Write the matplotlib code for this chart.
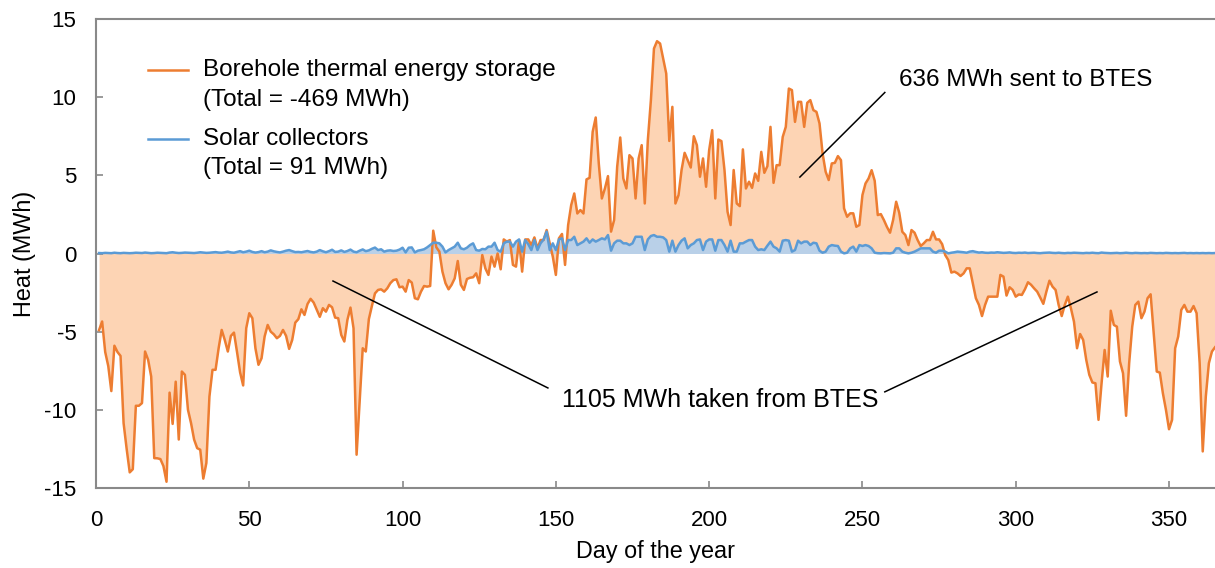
import matplotlib
matplotlib.use("Agg")
import matplotlib.pyplot as plt
from matplotlib.lines import Line2D
import numpy as np

plt.rcParams['font.family'] = ['Liberation Sans', 'DejaVu Sans']
plt.rcParams['axes.unicode_minus'] = False

# Daily heat (MWh), day 1..365
days = list(range(1, 366))

btes = [
    -4.9, -4.35, -6.3, -7.2, -8.8, -5.9, -6.3, -6.55, -10.85, -12.5,
    -14.0, -13.8, -9.74, -9.74, -9.57, -6.27, -6.8, -7.87, -13.09, -13.1,
    -13.15, -13.6, -14.6, -8.9, -10.9, -8.2, -11.9, -7.55, -7.76, -10.0,
    -10.85, -11.9, -12.45, -12.55, -14.4, -13.4, -9.15, -7.44, -7.44, -6.06,
    -4.89, -5.53, -6.27, -5.27, -5.06, -6.3, -7.6, -8.44, -4.78, -3.82,
    -4.14, -6.06, -7.12, -6.7, -5.31, -4.57, -5.0, -5.17, -5.42, -5.27,
    -4.89, -5.27, -6.1, -5.53, -4.42, -4.2, -3.57, -3.93, -3.23, -2.9,
    -3.14, -3.6, -4.05, -3.5, -3.72, -3.29, -3.44, -4.1, -4.14, -5.21,
    -5.63, -4.25, -3.46, -4.78, -12.87, -9.5, -6.06, -6.27, -4.2, -3.35,
    -2.55, -2.33, -2.29, -2.44, -2.23, -1.9, -1.7, -1.65, -2.16, -2.12,
    -2.44, -1.7, -1.86, -2.86, -2.93, -2.44, -2.08, -2.12, -2.08, 1.46,
    0.4, 0.12, -1.16, -1.9, -2.29, -2.0, -1.59, -0.48, -2.0, -2.33,
    -1.63, -1.55, -1.52, -1.27, -1.9, -0.1, -0.95, -1.37, -0.2, -0.84,
    0.0, -1.01, 0.9, 0.76, 0.86, -0.73, -0.84, 0.86, -1.16, 0.9,
    0.9, 0.54, 1.03, 0.33, 0.86, 0.86, 1.5, 0.65, -0.2, -1.37,
    0.97, 1.25, -0.73, 1.82, 3.1, 3.84, 2.56, 2.78, 2.56, 4.74,
    4.84, 7.78, 8.7, 5.76, 3.52, 4.16, 4.95, 1.4, 2.14, 5.55,
    7.42, 4.8, 4.16, 6.29, 6.08, 3.52, 6.08, 6.93, 3.2, 7.25,
    9.81, 13.11, 13.58, 13.43, 12.47, 11.51, 7.2, 9.38, 3.2, 3.73,
    5.34, 6.44, 5.97, 5.5, 7.5, 6.93, 4.91, 6.08, 4.27, 6.61,
    7.89, 3.52, 7.29, 7.19, 5.34, 2.67, 1.82, 5.34, 3.2, 3.03,
    6.66, 4.16, 4.59, 4.2, 5.12, 4.65, 6.5, 5.16, 5.59, 8.1,
    4.52, 5.65, 5.65, 7.46, 8.1, 10.55, 10.45, 8.42, 9.7, 9.7,
    8.1, 9.64, 9.81, 9.17, 9.06, 8.32, 6.4, 5.23, 4.7, 5.76,
    5.8, 6.23, 5.97, 2.89, 2.35, 2.57, 2.57, 1.71, 1.82, 3.74,
    4.48, 4.8, 5.33, 4.65, 2.46, 2.52, 2.14, 1.7, 1.33, 2.14,
    3.31, 2.61, 1.39, 1.18, 0.54, 1.5, 1.33, 0.86, 0.48, 0.65,
    0.86, 0.86, 1.39, 0.9, 0.9, 0.6, -0.1, -0.42, -1.22, -1.16,
    -1.27, -1.44, -1.27, -0.95, -0.95, -1.91, -2.86, -3.29, -4.0, -3.29,
    -2.76, -2.76, -2.76, -2.76, -1.37, -1.48, -2.69, -2.16, -2.33, -2.76,
    -2.62, -2.65, -2.29, -1.84, -2.0, -2.23, -2.44, -2.82, -3.22, -2.44,
    -1.74, -2.12, -2.33, -3.29, -4.0, -3.29, -2.76, -3.5, -4.36, -6.06,
    -5.15, -5.53, -6.8, -7.76, -8.25, -8.3, -10.64, -8.3, -6.17, -7.87,
    -3.66, -4.57, -4.68, -6.91, -7.66, -10.38, -7.02, -4.68, -3.29, -3.08,
    -4.14, -3.72, -2.86, -2.61, -5.1, -7.55, -7.62, -8.94, -10.0, -11.24,
    -10.64, -6.06, -5.31, -3.61, -3.29, -3.72, -3.72, -3.36, -3.82, -7.02,
    -12.66, -9.15, -7.02, -6.27, -6.0,
]

solar = [
    0.03, 0.02, 0.04, 0.03, 0.02, 0.05, 0.03, 0.02, 0.04, 0.03,
    0.02, 0.03, 0.05, 0.04, 0.03, 0.06, 0.04, 0.02, 0.03, 0.05,
    0.04, 0.03, 0.02, 0.06, 0.08, 0.05, 0.03, 0.04, 0.06, 0.05,
    0.04, 0.03, 0.05, 0.08, 0.06, 0.04, 0.05, 0.07, 0.09, 0.06,
    0.05, 0.08, 0.12, 0.07, 0.05, 0.1, 0.15, 0.08, 0.12, 0.18,
    0.1, 0.06, 0.09, 0.15, 0.08, 0.12, 0.2, 0.14, 0.1, 0.07,
    0.12, 0.18, 0.22, 0.15, 0.09, 0.1, 0.08, 0.12, 0.16, 0.1,
    0.07, 0.12, 0.22, 0.14, 0.08, 0.15, 0.24, 0.1, 0.12, 0.2,
    0.1, 0.16, 0.25, 0.12, 0.08, 0.18, 0.26, 0.15, 0.2, 0.3,
    0.38, 0.22, 0.27, 0.12, 0.18, 0.2, 0.16, 0.18, 0.25, 0.37,
    0.07, 0.37, 0.39, 0.07, 0.18, 0.22, 0.27, 0.39, 0.54, 0.69,
    0.69, 0.65, 0.44, 0.07, 0.22, 0.33, 0.44, 0.69, 0.33, 0.27,
    0.37, 0.54, 0.65, 0.22, 0.18, 0.29, 0.27, 0.44, 0.44, 0.69,
    0.22, 0.12, 0.65, 0.76, 0.76, 0.44, 0.76, 0.9, 0.12, 0.86,
    0.6, 0.22, 0.86, 0.22, 0.65, 0.9, 1.4, 0.22, 0.65, 0.22,
    0.9, 0.97, 0.22, 0.86, 0.86, 1.07, 0.54, 0.65, 0.76, 0.97,
    0.69, 0.9, 0.76, 0.86, 0.97, 0.9, 1.18, 0.18, 0.65, 0.82,
    0.82, 0.65, 0.65, 0.54, 0.65, 1.07, 1.07, 1.07, 0.22, 0.9,
    1.12, 1.18, 1.07, 1.07, 1.03, 0.86, 0.12, 0.82, 0.12, 0.54,
    0.82, 0.97, 0.33, 0.54, 0.65, 0.86, 0.9, 0.22, 0.76, 0.9,
    0.9, 0.18, 0.86, 0.86, 0.54, 0.12, 0.82, 0.12, 0.12, 0.65,
    0.65, 0.76, 0.86, 0.86, 0.44, 0.22, 0.27, 0.22, 0.5, 0.76,
    0.44, 0.33, 0.12, 0.82, 0.86, 0.82, 0.12, 0.22, 0.82, 0.65,
    0.76, 0.76, 0.54, 0.69, 0.65, 0.18, 0.05, 0.12, 0.44, 0.54,
    0.5, 0.48, 0.12, 0.01, 0.05, 0.33, 0.44, 0.12, 0.54, 0.48,
    0.54, 0.48, 0.33, 0.05, 0.02, 0.01, 0.03, 0.02, 0.01, 0.05,
    0.33, 0.33, 0.12, 0.05, 0.01, 0.05, 0.12, 0.22, 0.33, 0.33,
    0.33, 0.33, 0.12, 0.05, 0.18, 0.18, 0.12, 0.01, 0.05, 0.08,
    0.12, 0.1, 0.08, 0.05, 0.12, 0.15, 0.1, 0.06, 0.08, 0.05,
    0.04, 0.06, 0.05, 0.08, 0.06, 0.04, 0.05, 0.07, 0.04, 0.03,
    0.05, 0.04, 0.06, 0.03, 0.04, 0.05, 0.03, 0.02, 0.04, 0.05,
    0.06, 0.04, 0.03, 0.05, 0.03, 0.02, 0.04, 0.03, 0.05, 0.04,
    0.03, 0.02, 0.04, 0.03, 0.05, 0.03, 0.02, 0.06, 0.04, 0.03,
    0.02, 0.03, 0.04, 0.02, 0.03, 0.05, 0.03, 0.02, 0.04, 0.03,
    0.02, 0.03, 0.02, 0.04, 0.03, 0.02, 0.03, 0.02, 0.04, 0.03,
    0.02, 0.03, 0.02, 0.03, 0.04, 0.02, 0.03, 0.02, 0.03, 0.02,
    0.03, 0.02, 0.03, 0.02, 0.03,
]

x_ticks = [0, 50, 100, 150, 200, 250, 300, 350]
y_ticks = [-15, -10, -5, 0, 5, 10, 15]

labels = ["Borehole thermal energy storage", "(Total = -469 MWh)",
          "Solar collectors", "(Total = 91 MWh)"]

ORANGE = '#ED7D31'
PEACH = '#FDD4B4'
BLUE = '#5B9BD5'
LIGHTBLUE = '#B9D0E8'
GRAY = '#898989'
FS_TICK = 16
FS_LEG = 17.5
FS_ANN = 17.5
FS_LAB = 16.8

fig = plt.figure(figsize=(12.15, 5.68), dpi=100)
ax = fig.add_axes([96/1215, 80/568, 1119/1215, 469/568])

d = np.array(days)
b = np.array(btes)
s = np.array(solar)

ax.fill_between(d, b, 0, color=PEACH, linewidth=0, zorder=1)
ax.fill_between(d, s, 0, color=LIGHTBLUE, linewidth=0, zorder=2)
ax.plot(d, b, color=ORANGE, lw=1.8, zorder=3, solid_joinstyle='round')
ax.plot(d, s, color=BLUE, lw=1.8, zorder=4, solid_joinstyle='round')

ax.set_xlim(0, 365)
ax.set_ylim(-15, 15)
ax.set_xticks(x_ticks)
ax.set_yticks(y_ticks)
ax.tick_params(direction='in', length=5, width=1.2, color=GRAY,
               labelsize=FS_TICK)
ax.tick_params(axis='y', pad=14)
ax.tick_params(axis='x', pad=16)
for side in ['left', 'bottom', 'top']:
    ax.spines[side].set_color(GRAY)
    ax.spines[side].set_linewidth(1.5)
ax.spines['right'].set_visible(False)

ax.set_xlabel("Day of the year", fontsize=FS_LAB, labelpad=6)
ax.set_ylabel("Heat (MWh)", fontsize=FS_LAB, labelpad=6)

# Legend drawn manually (handle aligned with first text line)
tr = ax.transAxes
ax.add_line(Line2D([0.0465, 0.0822], [0.891, 0.891], color=ORANGE, lw=1.8, transform=tr))
ax.text(0.0956, 0.891, labels[0], transform=tr, fontsize=FS_LEG, va='center')
ax.text(0.0956, 0.827, labels[1], transform=tr, fontsize=FS_LEG, va='center')
ax.add_line(Line2D([0.0465, 0.0822], [0.744, 0.744], color=BLUE, lw=1.8, transform=tr))
ax.text(0.0956, 0.744, labels[2], transform=tr, fontsize=FS_LEG, va='center')
ax.text(0.0956, 0.682, labels[3], transform=tr, fontsize=FS_LEG, va='center')

# Annotations
ax.plot([229.6, 257.3], [4.89, 10.3], color='black', lw=1.1, zorder=5)
ax.text(261.9, 11.1, "636 MWh sent to BTES", fontsize=FS_ANN, va='center', ha='left')
ax.plot([77.3, 147.4], [-1.76, -8.6], color='black', lw=1.1, zorder=5)
ax.plot([257.3, 326.5], [-8.85, -2.46], color='black', lw=1.1, zorder=5)
ax.text(203.5, -9.36, "1105 MWh taken from BTES", fontsize=18, va='center', ha='center')

fig.savefig("out.png", dpi=100)
